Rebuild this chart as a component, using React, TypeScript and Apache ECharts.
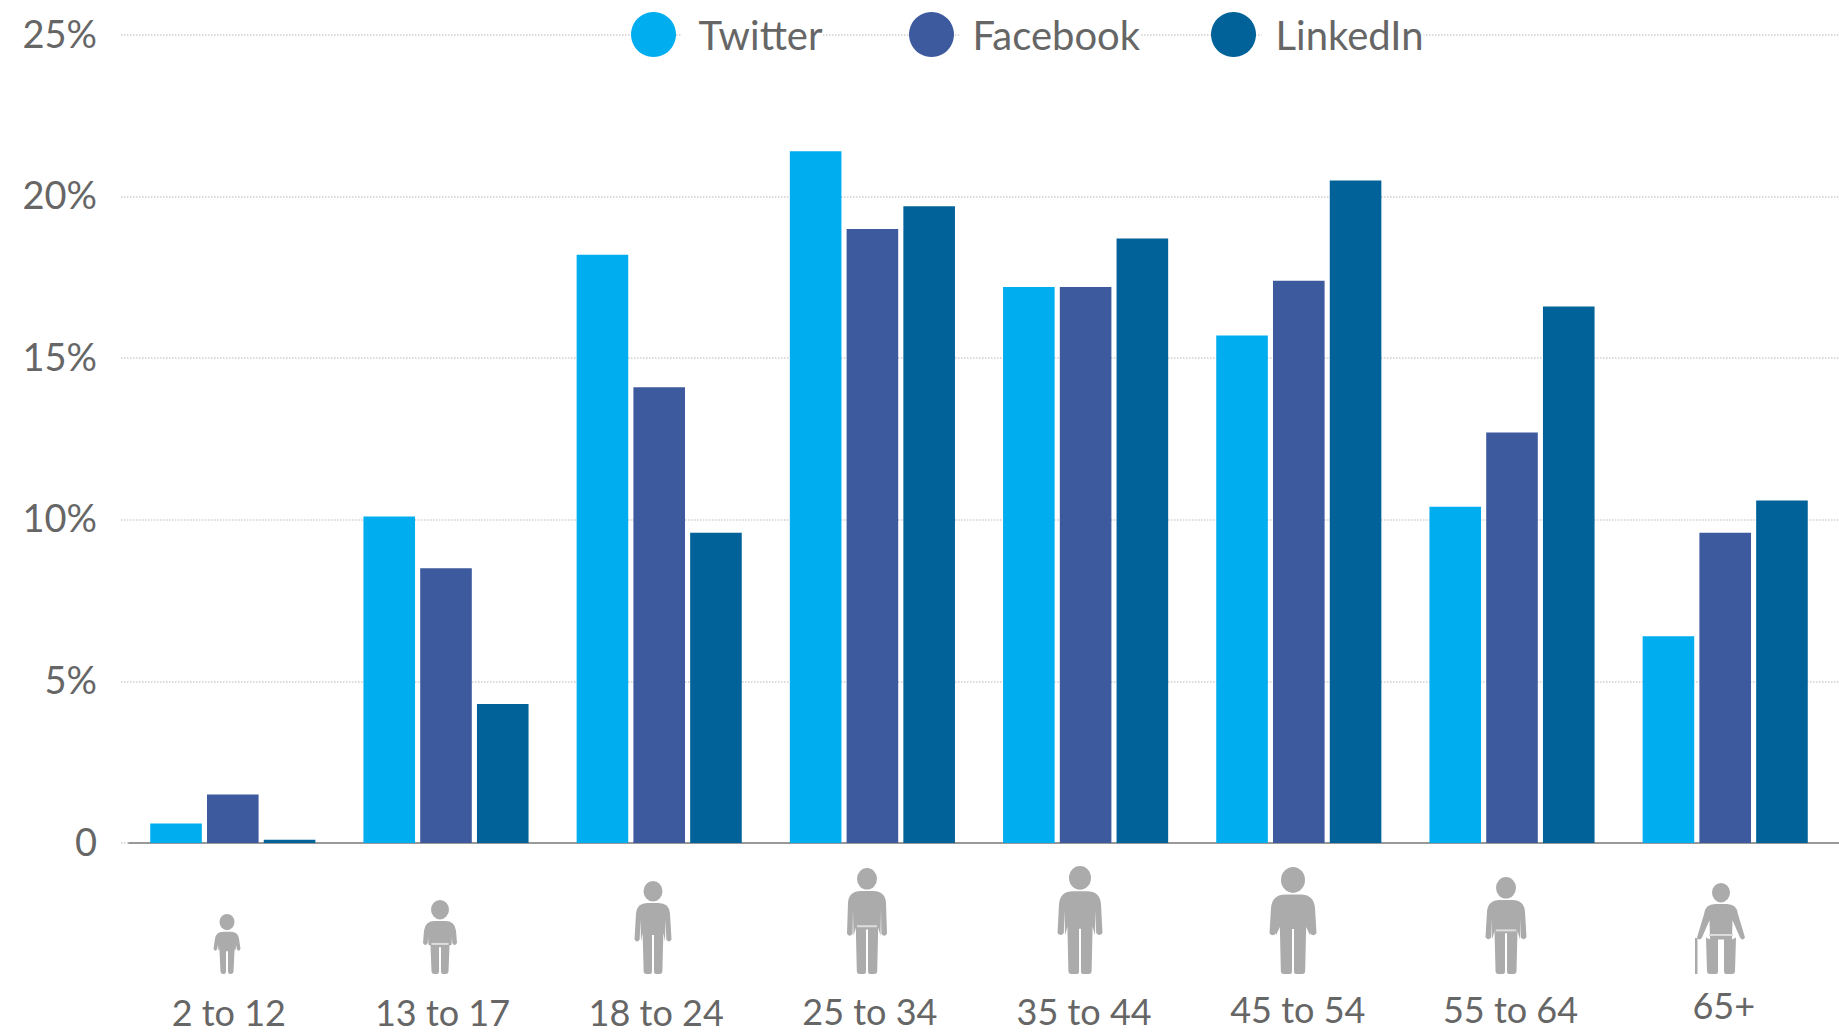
import React, { useEffect, useRef } from "react";
import * as echarts from "echarts";

const categories = ["2 to 12", "13 to 17", "18 to 24", "25 to 34", "35 to 44", "45 to 54", "55 to 64", "65+"];
const twitter = [0.6, 10.1, 18.2, 21.4, 17.2, 15.7, 10.4, 6.4];
const facebook = [1.5, 8.5, 14.1, 19.0, 17.2, 17.4, 12.7, 9.6];
const linkedin = [0.1, 4.3, 9.6, 19.7, 18.7, 20.5, 16.6, 10.6];
const seriesNames = ["Twitter", "Facebook", "LinkedIn"];
const seriesColors = ["#00ADEE", "#3D5A9E", "#006298"];
const labelPaddings = [[7, 8, 0, 0], [7, 7, 0, 0], [7, 6, 0, 0], [6, 5, 0, 0], [6, 3, 0, 0], [4, 2, 0, 0], [4, 3, 0, 0], [0, 3, 0, 0]];
const legendLefts = [631, 909, 1211];
const legendTextGaps = [17, 13, 14];

const FONT = "Lato";
const TEXT = "#666666";
const GRAY = "#ABABAB";

type Fig = {
  cx: number; w: number; h: number; head: number; hand: number; crotch: number;
  belt?: number; cane?: boolean; sh?: number; aw?: number; torso?: number; leg?: number; gap?: number;
};
const figures: Fig[] = [
  { cx: 227, w: 27, h: 60, head: 15, hand: 0.42, crotch: 0.38, sh: 11, torso: 8.5 },
  { cx: 440, w: 34, h: 74, head: 18, hand: 0.42, crotch: 0.36, belt: 0.42, sh: 15, torso: 11.5 },
  { cx: 653, w: 37, h: 93, head: 19, hand: 0.37, crotch: 0.42, sh: 16, torso: 12 },
  { cx: 867, w: 40, h: 106, head: 20, hand: 0.38, crotch: 0.42, belt: 0.46, sh: 18, torso: 13.5 },
  { cx: 1080, w: 45, h: 108, head: 22, hand: 0.38, crotch: 0.42, sh: 20, torso: 15 },
  { cx: 1293, w: 47, h: 107, head: 24, hand: 0.38, crotch: 0.42, sh: 21, torso: 17 },
  { cx: 1506, w: 41, h: 97, head: 20, hand: 0.38, crotch: 0.42, belt: 0.46, sh: 18, torso: 14 },
  { cx: 1721, w: 48, h: 91, head: 18, hand: 0.4, crotch: 0.38, belt: 0.44, cane: true, sh: 16, aw: 5, torso: 11, leg: 15, gap: 3 },
];

function personPath(f: Fig): string {
  const rx = f.head / 2;
  const ry = rx * 1.08;
  const cy = -f.h + ry;
  const yb = -f.h + 2 * ry + 1.5;
  const half = f.w / 2;
  const sh = f.sh ?? half;
  const r = sh * 0.65;
  const ya = -f.h * f.hand;
  const aw = f.aw ?? f.w * 0.14;
  const torso = f.torso ?? half - aw - 0.5;
  const leg = f.leg ?? f.w * 0.28;
  const g = f.gap ?? 1;
  const yc = -f.h * f.crotch;
  const apit = yb + r + 6;
  let d = `M${-rx} ${cy}A${rx} ${ry} 0 1 1 ${rx} ${cy}A${rx} ${ry} 0 1 1 ${-rx} ${cy}Z`;
  d += `M${-sh + r} ${yb}L${sh - r} ${yb}Q${sh} ${yb} ${sh + 1} ${yb + r}L${half} ${ya}`;
  d += `Q${half - aw / 2} ${ya + 4} ${half - aw} ${ya}L${torso + 0.5} ${apit}L${torso} ${ya + 2}L${leg} ${yc - 2}L${leg - 1} -3Q${leg - 1} 0 ${leg - 4} 0L${g + 2} 0Q${g} 0 ${g} -3L${g} ${yc}`;
  d += `L${-g} ${yc}L${-g} -3Q${-g} 0 ${-g - 2} 0L${-leg + 4} 0Q${-leg + 1} 0 ${-leg + 1} -3L${-leg} ${yc - 2}L${-torso} ${ya + 2}L${-torso - 0.5} ${apit}L${-half + aw} ${ya}`;
  d += `Q${-half + aw / 2} ${ya + 4} ${-half} ${ya}L${-sh - 1} ${yb + r}Q${-sh} ${yb} ${-sh + r} ${yb}Z`;
  if (f.cane) d += `M-26 -36L-23.5 -36L-23.5 0L-26 0Z`;
  return d;
}

figures.forEach((f, i) => {
  echarts.graphic.registerShape(`person${i}`, echarts.graphic.extendPath(personPath(f), {}));
});

export default function App() {
  const ref = useRef<HTMLDivElement>(null);
  useEffect(() => {
    const chart = echarts.init(ref.current!, null, { renderer: "svg" });
    const valueAxisBase = { type: "value", min: 0, max: 25, interval: 5 };
    const iconGraphics: any[] = [];
    figures.forEach((f, i) => {
      iconGraphics.push({ type: `person${i}`, x: f.cx, y: 974, style: { fill: GRAY } });
      if (f.belt) {
        const bw = f.w * 0.5;
        iconGraphics.push({
          type: "rect",
          x: f.cx - bw / 2,
          y: 974 - f.h * f.belt,
          shape: { x: 0, y: 0, width: bw, height: 2 },
          style: { fill: "#DDDDDD" },
        });
      }
    });
    chart.setOption({
      animation: false,
      backgroundColor: "#ffffff",
      textStyle: { fontFamily: FONT },
      grid: [
        { left: 121, top: 35, width: 1718, height: 808 },
        { left: 129, top: 35, width: 1710, height: 808 },
        { left: 126.2, top: 35, width: 1705.6, height: 808 },
        { left: 121, top: 32.5, width: 1718, height: 808 },
      ],
      xAxis: [
        { gridIndex: 0, type: "value", min: 0, max: 1, show: false },
        {
          gridIndex: 1, type: "value", min: 0, max: 1,
          axisLine: { show: true, lineStyle: { color: "#999999", width: 2 } },
          axisTick: { show: false }, axisLabel: { show: false }, splitLine: { show: false },
        },
        {
          gridIndex: 2,
          type: "category",
          data: categories.map((c, i) => ({ value: c, textStyle: { padding: labelPaddings[i] } })),
          axisLine: { show: false },
          axisTick: { show: false },
          axisLabel: { interval: 0, margin: 144, fontSize: 36, fontFamily: FONT, color: TEXT },
          splitLine: { show: false },
        },
        { gridIndex: 3, type: "value", min: 0, max: 1, show: false },
      ],
      yAxis: [
        {
          ...valueAxisBase,
          gridIndex: 0,
          axisLine: { show: false },
          axisTick: { show: false },
          axisLabel: { show: false },
          splitLine: { show: true, lineStyle: { color: "#CFCFCF", type: "dotted", width: 1.5 } },
        },
        { ...valueAxisBase, gridIndex: 1, show: false },
        { ...valueAxisBase, gridIndex: 2, show: false },
        {
          ...valueAxisBase,
          gridIndex: 3,
          axisLine: { show: false },
          axisTick: { show: false },
          splitLine: { show: false },
          axisLabel: {
            margin: 24, fontSize: 38, fontFamily: FONT, color: TEXT,
            formatter: (v: number) => (v === 0 ? "0" : `${v}%`),
          },
        },
      ],
      legend: seriesNames.map((name, i) => ({
        left: legendLefts[i],
        top: 12,
        padding: 0,
        itemWidth: 46,
        itemHeight: 45,
        icon: "circle",
        itemStyle: { borderWidth: 0 },
        textStyle: { fontFamily: FONT, fontSize: 40, color: TEXT, backgroundColor: "#ffffff", padding: [0, 0, 0, legendTextGaps[i]] },
        data: [name],
      })),
      series: [twitter, facebook, linkedin].map((values, i) => ({
        name: seriesNames[i],
        type: "bar",
        xAxisIndex: 2,
        yAxisIndex: 2,
        data: values,
        barWidth: 51.6,
        barGap: "10%",
        itemStyle: { color: seriesColors[i] },
      })),
      graphic: iconGraphics,
    });
    return () => chart.dispose();
  }, []);
  return <div ref={ref} style={{ position: "fixed", left: 0, top: 0, width: 1839, height: 1033, background: "#fff" }} />;
}
